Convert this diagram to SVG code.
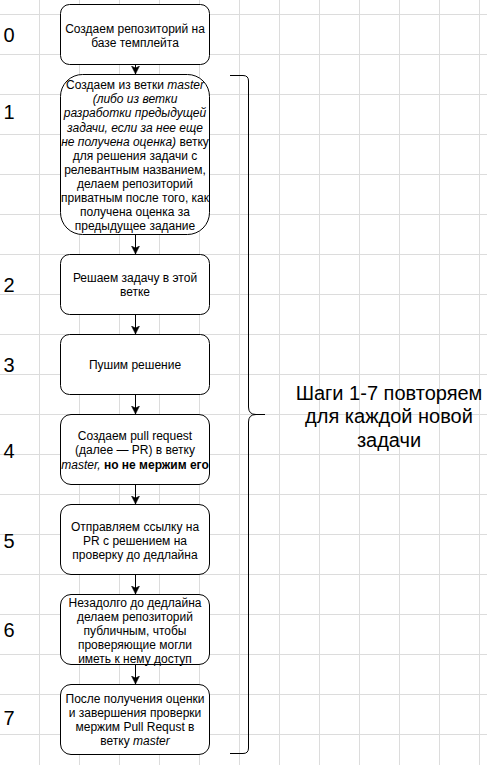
<svg xmlns="http://www.w3.org/2000/svg" width="487" height="765" viewBox="0 0 487 765">
<style>
.grid{stroke:#dcdcdc;stroke-width:1;fill:none}
.box{fill:#ffffff;stroke:#000000;stroke-width:1}
.t{font-family:"Liberation Sans",Arial,Helvetica,sans-serif;font-size:12px;fill:#000000;text-anchor:middle}
.num{font-family:"Liberation Sans",Arial,Helvetica,sans-serif;font-size:20px;fill:#000000}
.big{font-family:"Liberation Sans",Arial,Helvetica,sans-serif;font-size:20px;fill:#000000;text-anchor:middle}
.i{font-style:italic}
.b{font-weight:bold}
.edge{stroke:#000000;stroke-width:1;fill:none}
</style>
<defs>
<marker id="arr" markerUnits="userSpaceOnUse" markerWidth="10" markerHeight="10" refX="8" refY="4" orient="auto">
<path d="M0,0 L8,4 L0,8 L2,4 Z" fill="#000000" stroke="#000000" stroke-width="0.5"/>
</marker>
</defs>
<rect x="0" y="0" width="487" height="765" fill="#ffffff"/>
<g id="grid" class="grid">
<path d="M39.5,0V765M79.5,0V765M119.5,0V765M159.5,0V765M199.5,0V765M239.5,0V765M279.5,0V765M319.5,0V765M359.5,0V765M399.5,0V765M439.5,0V765M479.5,0V765"/>
<path d="M0,14.5H487M0,54.5H487M0,94.5H487M0,134.5H487M0,174.5H487M0,214.5H487M0,254.5H487M0,294.5H487M0,334.5H487M0,374.5H487M0,414.5H487M0,454.5H487M0,494.5H487M0,534.5H487M0,574.5H487M0,614.5H487M0,654.5H487M0,694.5H487M0,734.5H487"/>
</g>
<g id="step-numbers">
<text class="num" x="3.5" y="42">0</text>
<text class="num" x="3.5" y="119">1</text>
<text class="num" x="3.5" y="292">2</text>
<text class="num" x="3.5" y="372">3</text>
<text class="num" x="3.5" y="458">4</text>
<text class="num" x="3.5" y="548">5</text>
<text class="num" x="3.5" y="637">6</text>
<text class="num" x="3.5" y="725">7</text>
</g>
<g id="connectors">
<line class="edge" x1="135.5" y1="64.5" x2="135.5" y2="74" marker-end="url(#arr)"/>
<line class="edge" x1="135.5" y1="234.5" x2="135.5" y2="254" marker-end="url(#arr)"/>
<line class="edge" x1="135.5" y1="314.5" x2="135.5" y2="334" marker-end="url(#arr)"/>
<line class="edge" x1="135.5" y1="394.5" x2="135.5" y2="414" marker-end="url(#arr)"/>
<line class="edge" x1="135.5" y1="484.5" x2="135.5" y2="504" marker-end="url(#arr)"/>
<line class="edge" x1="135.5" y1="574.5" x2="135.5" y2="594" marker-end="url(#arr)"/>
<line class="edge" x1="135.5" y1="664.5" x2="135.5" y2="684" marker-end="url(#arr)"/>
</g>
<g id="node0">
<rect class="box" x="60.5" y="4.5" width="149" height="60" rx="9" ry="9"/>
<text class="t" x="135" y="32.5">Создаем репозиторий на</text>
<text class="t" x="135" y="46.5">базе темплейта</text>
</g>
<g id="node1">
<rect class="box" x="60.5" y="74.5" width="149" height="160" rx="22" ry="22"/>
<text class="t" x="135" y="89.3">Создаем из ветки <tspan class="i">master</tspan></text>
<text class="t i" x="135" y="103.4">(либо из ветки</text>
<text class="t i" x="135" y="117.4">разработки предыдущей</text>
<text class="t i" x="135" y="131.5">задачи, если за нее еще</text>
<text class="t" x="135" y="145.6"><tspan class="i">не получена оценка)</tspan> ветку</text>
<text class="t" x="135" y="159.6">для решения задачи с</text>
<text class="t" x="135" y="173.7">релевантным названием,</text>
<text class="t" x="135" y="187.8">делаем репозиторий</text>
<text class="t" x="135" y="201.9">приватным после того, как</text>
<text class="t" x="135" y="215.9">получена оценка за</text>
<text class="t" x="135" y="230">предыдущее задание</text>
</g>
<g id="node2">
<rect class="box" x="60.5" y="254.5" width="149" height="60" rx="9" ry="9"/>
<text class="t" x="135" y="282.3">Решаем задачу в этой</text>
<text class="t" x="135" y="296.3">ветке</text>
</g>
<g id="node3">
<rect class="box" x="60.5" y="334.5" width="149" height="60" rx="9" ry="9"/>
<text class="t" x="135" y="369.3">Пушим решение</text>
</g>
<g id="node4">
<rect class="box" x="60.5" y="414.5" width="149" height="70" rx="10.5" ry="10.5"/>
<text class="t" x="135" y="440">Создаем pull request</text>
<text class="t" x="135" y="454.3">(далее — PR) в ветку</text>
<text class="t" x="135" y="468.6"><tspan class="i">master,</tspan><tspan class="b"> но не мержим его</tspan></text>
</g>
<g id="node5">
<rect class="box" x="60.5" y="504.5" width="149" height="70" rx="10.5" ry="10.5"/>
<text class="t" x="135" y="531">Отправляем ссылку на</text>
<text class="t" x="135" y="545">PR с решением на</text>
<text class="t" x="135" y="559">проверку до дедлайна</text>
</g>
<g id="node6">
<rect class="box" x="60.5" y="594.5" width="149" height="70" rx="10.5" ry="10.5"/>
<text class="t" x="135" y="607">Незадолго до дедлайна</text>
<text class="t" x="135" y="621">делаем репозиторий</text>
<text class="t" x="135" y="635">публичным, чтобы</text>
<text class="t" x="135" y="649">проверяющие могли</text>
<text class="t" x="135" y="663">иметь к нему доступ</text>
</g>
<g id="node7">
<rect class="box" x="60.5" y="684.5" width="149" height="70" rx="10.5" ry="10.5"/>
<text class="t" x="135" y="703.3">После получения оценки</text>
<text class="t" x="135" y="717.3">и завершения проверки</text>
<text class="t" x="135" y="731.3">мержим Pull Requst в</text>
<text class="t" x="135" y="745.3">ветку <tspan class="i">master</tspan></text>
</g>
<g id="brace">
<path class="edge" d="M230,75.5 L243,75.5 Q248.5,75.5 248.5,81 L248.5,407 Q248.5,414.5 256,414.5 L265,414.5 M256,414.5 Q248.5,414.5 248.5,422 L248.5,748 Q248.5,753.5 243,753.5 L230,753.5"/>
</g>
<g id="brace-label">
<text class="big" x="389" y="399.5">Шаги 1-7 повторяем</text>
<text class="big" x="389" y="423">для каждой новой</text>
<text class="big" x="389" y="446.5">задачи</text>
</g>
</svg>
